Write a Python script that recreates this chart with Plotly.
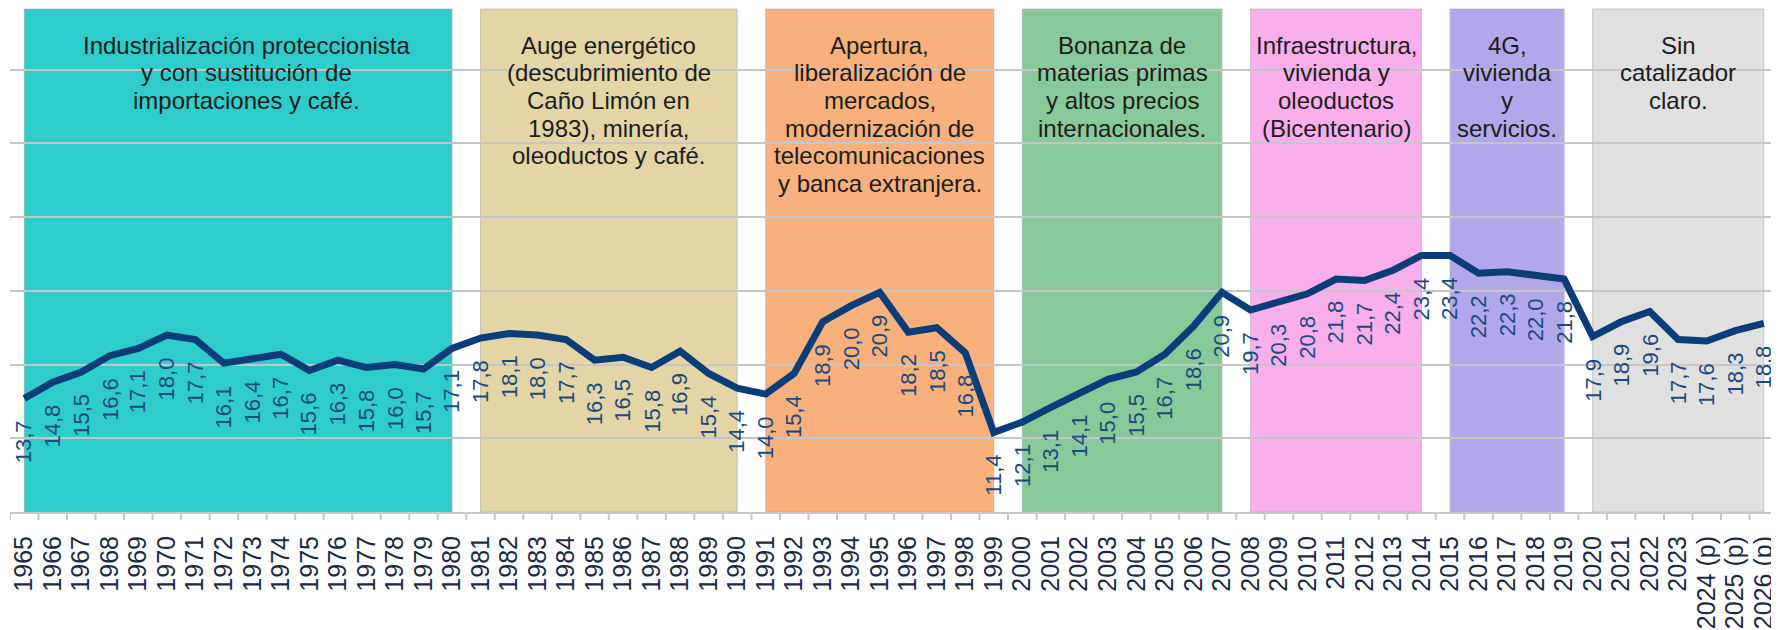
import plotly.graph_objects as go

years = [str(y) for y in range(1965, 2024)] + ["2024 (p)", "2025 (p)", "2026 (p)"]
values = [13.7, 14.8, 15.5, 16.6, 17.1, 18.0, 17.7, 16.1, 16.4, 16.7,
          15.6, 16.3, 15.8, 16.0, 15.7, 17.1, 17.8, 18.1, 18.0, 17.7,
          16.3, 16.5, 15.8, 16.9, 15.4, 14.4, 14.0, 15.4, 18.9, 20.0,
          20.9, 18.2, 18.5, 16.8, 11.4, 12.1, 13.1, 14.1, 15.0, 15.5,
          16.7, 18.6, 20.9, 19.7, 20.3, 20.8, 21.8, 21.7, 22.4, 23.4,
          23.4, 22.2, 22.3, 22.0, 21.8, 17.9, 18.9, 19.6, 17.7, 17.6,
          18.3, 18.8]

period_start = ["1965", "1981", "1991", "2000", "2008", "2015", "2020"]
period_end = ["1980", "1990", "1999", "2007", "2014", "2019", "2026 (p)"]
period_colors = ["#2ecdcc", "#e3d5a5", "#f8b07d", "#88c99a", "#f9afeb", "#b3a7ec", "#e0e0e0"]
period_texts = [
    ["Industrialización proteccionista", "y con sustitución de", "importaciones y café."],
    ["Auge energético", "(descubrimiento de", "Caño Limón en", "1983), minería,", "oleoductos y café."],
    ["Apertura,", "liberalización de", "mercados,", "modernización de", "telecomunicaciones", "y banca extranjera."],
    ["Bonanza de", "materias primas", "y altos precios", "internacionales."],
    ["Infraestructura,", "vivienda y", "oleoductos", "(Bicentenario)"],
    ["4G,", "vivienda", "y", "servicios."],
    ["Sin", "catalizador", "claro."],
]

FONT = "Liberation Sans, Arial, sans-serif"
LINE_COLOR = "#0b3d78"
LABEL_COLOR = "#1d4a7c"
GRID = "#c6c6c6"

idx = list(range(len(years)))

fig = go.Figure()
fig.add_trace(go.Scatter(
    x=idx, y=values, mode="lines",
    line=dict(color=LINE_COLOR, width=7, shape="linear"),
    hoverinfo="skip", showlegend=False,
))

shapes = []
annotations = []
for i, (s, e, c, lines) in enumerate(zip(period_start, period_end, period_colors, period_texts)):
    x0 = years.index(s)
    x1 = years.index(e)
    shapes.append(dict(
        type="rect", xref="x", yref="paper", x0=x0, x1=x1, y0=0, y1=1,
        fillcolor=c, line=dict(color="rgba(170,170,170,0.6)", width=1),
        layer="below" if i == len(period_start) - 1 else "between",
    ))
    xc = (x0 + x1) / 2
    xshift = 8 if i == 0 else 0
    for j, t in enumerate(lines):
        annotations.append(dict(
            x=xc, y=1, xref="x", yref="paper", text=t, showarrow=False,
            xanchor="center", yanchor="middle", yshift=-(36 + j * 27.7),
            xshift=xshift,
            font=dict(family=FONT, size=24, color="#1c1c1c"),
        ))

for i, v in zip(idx, values):
    annotations.append(dict(
        x=i, y=v, xref="x", yref="y",
        text=f"{v:.1f}".replace(".", ","),
        showarrow=False, textangle=-90,
        xanchor="center", yanchor="top", yshift=-20,
        font=dict(family=FONT, size=22, color=LABEL_COLOR),
    ))

# the page body adds an 8px offset; margins compensate for it
fig.update_layout(
    width=1771, height=622,
    margin=dict(l=1, r=1, t=1, b=114),
    paper_bgcolor="white", plot_bgcolor="white",
    annotations=annotations,
    showlegend=False,
    font=dict(family=FONT),
)
fig.update_xaxes(
    type="linear",
    range=[-0.5, len(years) - 0.5],
    tickmode="array", tickvals=idx, ticktext=years,
    ticks="", showline=True, linecolor=GRID, linewidth=2,
    showgrid=False, tickangle=-90,
    tickfont=dict(family=FONT, size=25, color="#1c2a48"),
    ticklabelstandoff=12, zeroline=False,
)
fig.update_yaxes(
    range=[6, 40.12], tick0=6, dtick=5,
    showgrid=True, gridcolor=GRID, gridwidth=2,
    showticklabels=False, zeroline=False, showline=False, ticks="",
)
# boundary tick marks between categories
for k in range(len(years) + 1):
    shapes.append(dict(
        type="line", xref="x", yref="paper", x0=k - 0.5, x1=k - 0.5,
        y0=0, y1=-0.016, line=dict(color=GRID, width=2), layer="above",
    ))
fig.update_layout(shapes=shapes)

fig.write_html("out.html")
